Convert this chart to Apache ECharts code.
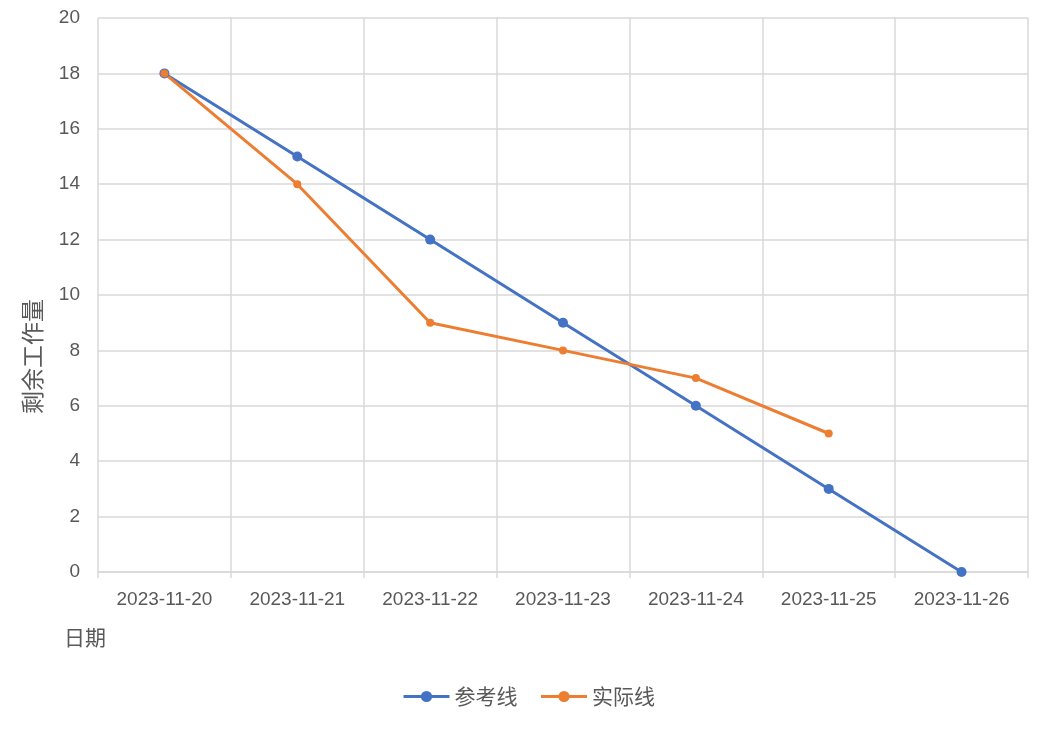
<!DOCTYPE html>
<html><head><meta charset="utf-8">
<script src="https://cdn.jsdelivr.net/npm/echarts@6/dist/echarts.min.js"></script>
<style>html,body{margin:0;padding:0;background:#fff}#c{width:1044px;height:729px}</style>
</head><body><div id="c"></div>
<script>
const categories = ['2023-11-20','2023-11-21','2023-11-22','2023-11-23','2023-11-24','2023-11-25','2023-11-26'];
const referenceValues = [18, 15, 12, 9, 6, 3, 0];
const actualValues = [18, 14, 9, 8, 7, 5, null];
const seriesNames = ['参考线', '实际线'];
const xAxisTitle = '日期';
const yAxisTitle = '剩余工作量';

const txt = '#595959';
const grid = '#d9d9d9';
const fontCJK = '"Noto Sans CJK SC", "Noto Sans", sans-serif';
const fontNum = '"Liberation Sans", Arial, sans-serif';
const chart = echarts.init(document.getElementById('c'));
chart.setOption({
  animation: false,
  grid: {left: 98, right: 16, top: 18, bottom: 157, containLabel: false},
  legend: {
    data: seriesNames, top: 681, left: 397, itemWidth: 46, itemHeight: 14, itemGap: 22,
    lineStyle: {width: 3},
    textStyle: {color: txt, fontSize: 21, fontFamily: fontCJK}
  },
  graphic: [
    {type: 'text', left: 64, top: 627, style: {text: xAxisTitle, fill: txt, font: '21px ' + fontCJK}},
    {type: 'text', x: 21, y: 414, rotation: Math.PI / 2, style: {text: yAxisTitle, fill: txt, font: '23px ' + fontCJK, textAlign: 'left', textVerticalAlign: 'top'}}
  ],
  xAxis: {
    type: 'category', data: categories, boundaryGap: true,
    axisLine: {lineStyle: {color: grid, width: 1.5}},
    axisTick: {show: true, length: 6, lineStyle: {color: grid, width: 1.5}},
    axisLabel: {color: txt, fontSize: 19, margin: 18, fontFamily: fontNum},
    splitLine: {show: true, lineStyle: {color: grid, width: 1.5}}
  },
  yAxis: {
    type: 'value', min: 0, max: 20, interval: 2,
    axisLine: {show: false}, axisTick: {show: false},
    axisLabel: {color: txt, fontSize: 19, margin: 18, fontFamily: fontNum},
    splitLine: {lineStyle: {color: grid, width: 1.5}}
  },
  series: [
    {name: seriesNames[0], type: 'line', data: referenceValues, symbol: 'circle', symbolSize: 10,
     lineStyle: {color: '#4472C4', width: 3}, itemStyle: {color: '#4472C4'}},
    {name: seriesNames[1], type: 'line', data: actualValues, symbol: 'circle', symbolSize: 8,
     lineStyle: {color: '#ED7D31', width: 3}, itemStyle: {color: '#ED7D31'}}
  ]
});
</script></body></html>
